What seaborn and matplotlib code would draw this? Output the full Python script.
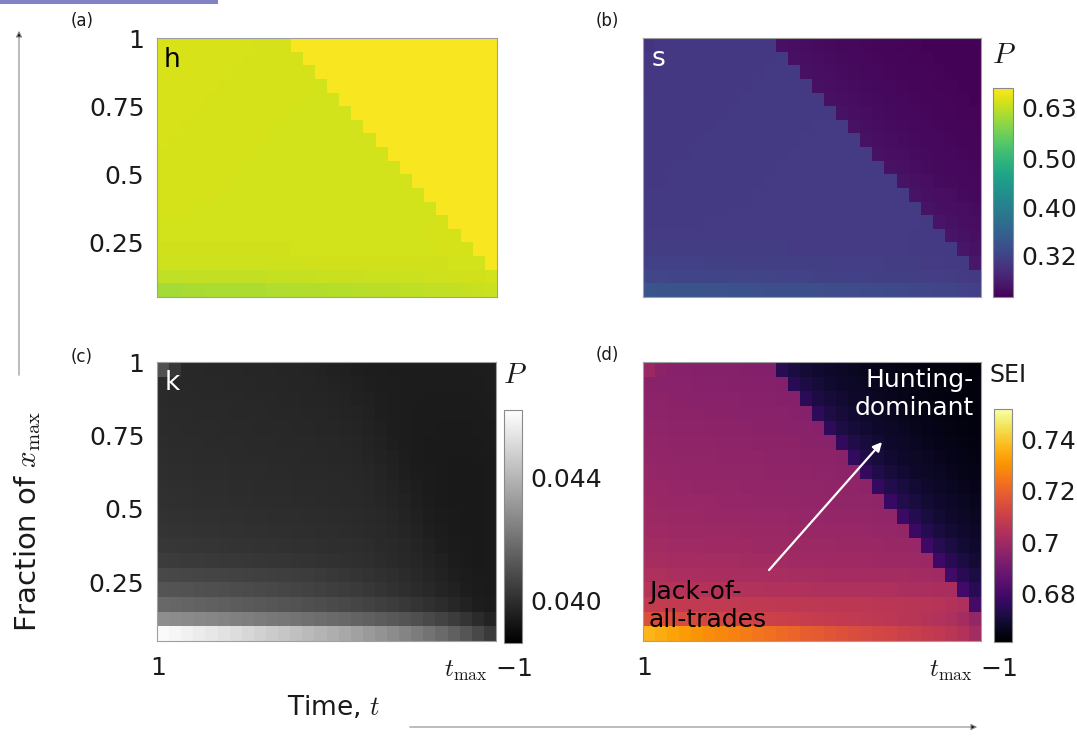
import matplotlib
matplotlib.use("Agg")
import numpy as np
import pandas as pd
import matplotlib.pyplot as plt
import seaborn as sns
from matplotlib.colors import LogNorm, Normalize
from matplotlib.patches import Rectangle, FancyArrowPatch

sns.set_style("white")
plt.rcParams["font.family"] = ["DejaVu Sans"]
plt.rcParams["mathtext.fontset"] = "cm"

# ---------------- data ----------------
fractions = [1.0, 0.95, 0.9, 0.85, 0.8, 0.75, 0.7, 0.65, 0.6, 0.55,
             0.5, 0.45, 0.4, 0.35, 0.3, 0.25, 0.2, 0.15, 0.1]
times = list(range(1, 29))

y_tick_labels = ["1", "0.75", "0.5", "0.25"]
x_tick_labels = ["1", r"$t_{\max}$ −1"]

P_cbar_ticks = [0.32, 0.40, 0.50, 0.63]
P_cbar_labels = ["0.32", "0.40", "0.50", "0.63"]
k_cbar_ticks = [0.040, 0.044]
k_cbar_labels = ["0.040", "0.044"]
sei_cbar_ticks = [0.68, 0.70, 0.72, 0.74]
sei_cbar_labels = ["0.68", "0.7", "0.72", "0.74"]

# probability of hunting (panel a)
h_rows = [
    [0.652,0.651,0.651,0.650,0.650, 0.650,0.650,0.650,0.649,0.649, 0.649,0.683,0.683,0.684,0.684, 0.684,0.684,0.684,0.684,0.684, 0.684,0.684,0.684,0.684,0.684, 0.684,0.684,0.684],
    [0.651,0.651,0.650,0.650,0.650, 0.650,0.650,0.649,0.649,0.649, 0.649,0.648,0.683,0.683,0.684, 0.684,0.684,0.684,0.684,0.684, 0.684,0.684,0.684,0.684,0.684, 0.684,0.684,0.684],
    [0.651,0.650,0.650,0.650,0.650, 0.650,0.649,0.649,0.649,0.649, 0.648,0.648,0.648,0.683,0.683, 0.684,0.684,0.684,0.684,0.684, 0.684,0.684,0.684,0.684,0.684, 0.684,0.684,0.684],
    [0.651,0.650,0.650,0.650,0.650, 0.649,0.649,0.649,0.649,0.648, 0.648,0.648,0.648,0.647,0.683, 0.683,0.684,0.684,0.684,0.684, 0.684,0.684,0.684,0.684,0.684, 0.684,0.684,0.684],
    [0.650,0.650,0.650,0.650,0.649, 0.649,0.649,0.649,0.648,0.648, 0.648,0.648,0.647,0.647,0.647, 0.683,0.683,0.684,0.684,0.684, 0.684,0.684,0.684,0.684,0.684, 0.684,0.684,0.684],
    [0.650,0.650,0.650,0.649,0.649, 0.649,0.649,0.648,0.648,0.648, 0.648,0.647,0.647,0.647,0.647, 0.646,0.683,0.683,0.684,0.684, 0.684,0.684,0.684,0.684,0.684, 0.684,0.684,0.684],
    [0.650,0.650,0.649,0.649,0.649, 0.649,0.648,0.648,0.648,0.648, 0.647,0.647,0.647,0.647,0.646, 0.646,0.646,0.683,0.683,0.684, 0.684,0.684,0.684,0.684,0.684, 0.684,0.684,0.684],
    [0.650,0.649,0.649,0.649,0.649, 0.648,0.648,0.648,0.648,0.647, 0.647,0.647,0.647,0.646,0.646, 0.646,0.646,0.646,0.683,0.683, 0.684,0.684,0.684,0.684,0.684, 0.684,0.684,0.684],
    [0.649,0.649,0.649,0.649,0.648, 0.648,0.648,0.648,0.647,0.647, 0.647,0.647,0.646,0.646,0.646, 0.646,0.646,0.646,0.646,0.683, 0.683,0.684,0.684,0.684,0.684, 0.684,0.684,0.684],
    [0.649,0.649,0.649,0.648,0.648, 0.648,0.648,0.647,0.647,0.647, 0.647,0.646,0.646,0.646,0.646, 0.646,0.646,0.646,0.646,0.646, 0.683,0.683,0.684,0.684,0.684, 0.684,0.684,0.684],
    [0.649,0.649,0.648,0.648,0.648, 0.648,0.647,0.647,0.647,0.647, 0.646,0.646,0.646,0.646,0.646, 0.646,0.646,0.646,0.646,0.646, 0.647,0.683,0.683,0.684,0.684, 0.684,0.684,0.684],
    [0.648,0.648,0.648,0.648,0.648, 0.647,0.647,0.647,0.647,0.646, 0.646,0.646,0.646,0.646,0.646, 0.646,0.646,0.646,0.646,0.646, 0.647,0.647,0.683,0.683,0.684, 0.684,0.684,0.684],
    [0.648,0.648,0.648,0.647,0.647, 0.647,0.647,0.646,0.646,0.646, 0.646,0.646,0.646,0.646,0.646, 0.646,0.646,0.646,0.646,0.646, 0.647,0.647,0.647,0.683,0.683, 0.684,0.684,0.684],
    [0.647,0.647,0.647,0.647,0.647, 0.646,0.646,0.646,0.646,0.646, 0.646,0.646,0.646,0.646,0.646, 0.646,0.646,0.646,0.646,0.647, 0.647,0.647,0.647,0.648,0.683, 0.683,0.684,0.684],
    [0.646,0.646,0.646,0.646,0.646, 0.646,0.646,0.646,0.646,0.646, 0.646,0.646,0.646,0.646,0.646, 0.646,0.646,0.646,0.647,0.647, 0.647,0.647,0.648,0.648,0.648, 0.683,0.684,0.684],
    [0.645,0.645,0.645,0.645,0.645, 0.645,0.645,0.645,0.645,0.645, 0.645,0.646,0.646,0.646,0.646, 0.646,0.646,0.646,0.646,0.647, 0.647,0.647,0.647,0.648,0.648, 0.648,0.683,0.684],
    [0.641,0.641,0.641,0.641,0.641, 0.641,0.642,0.642,0.642,0.642, 0.642,0.642,0.643,0.643,0.643, 0.643,0.643,0.644,0.644,0.644, 0.644,0.645,0.645,0.645,0.646, 0.646,0.647,0.683],
    [0.630,0.630,0.631,0.631,0.632, 0.632,0.632,0.633,0.633,0.634, 0.634,0.635,0.635,0.636,0.636, 0.637,0.637,0.638,0.638,0.639, 0.640,0.640,0.641,0.642,0.643, 0.644,0.645,0.647],
    [0.606,0.607,0.608,0.609,0.610, 0.611,0.612,0.613,0.614,0.615, 0.616,0.617,0.618,0.619,0.620, 0.621,0.622,0.623,0.624,0.626, 0.627,0.628,0.630,0.631,0.633, 0.635,0.637,0.640],
]

# probability of scavenging (panel b)
s_rows = [
    [0.307,0.308,0.308,0.309,0.309, 0.309,0.309,0.309,0.310,0.310, 0.310,0.276,0.275,0.274,0.273, 0.272,0.271,0.270,0.269,0.268, 0.268,0.267,0.267,0.266,0.266, 0.266,0.266,0.266],
    [0.308,0.308,0.309,0.309,0.309, 0.309,0.309,0.310,0.310,0.310, 0.310,0.311,0.276,0.275,0.274, 0.273,0.272,0.271,0.270,0.269, 0.268,0.268,0.267,0.267,0.266, 0.266,0.266,0.266],
    [0.308,0.309,0.309,0.309,0.309, 0.309,0.310,0.310,0.310,0.310, 0.311,0.311,0.311,0.276,0.275, 0.274,0.273,0.272,0.271,0.270, 0.269,0.268,0.268,0.267,0.267, 0.266,0.266,0.266],
    [0.308,0.309,0.309,0.309,0.309, 0.310,0.310,0.310,0.310,0.311, 0.311,0.311,0.311,0.312,0.276, 0.275,0.274,0.273,0.272,0.271, 0.270,0.269,0.268,0.268,0.267, 0.267,0.266,0.266],
    [0.309,0.309,0.309,0.309,0.310, 0.310,0.310,0.310,0.311,0.311, 0.311,0.311,0.312,0.312,0.312, 0.276,0.275,0.274,0.273,0.272, 0.271,0.270,0.269,0.268,0.268, 0.267,0.267,0.266],
    [0.309,0.309,0.309,0.310,0.310, 0.310,0.310,0.311,0.311,0.311, 0.311,0.312,0.312,0.312,0.312, 0.312,0.277,0.275,0.274,0.273, 0.272,0.271,0.270,0.269,0.268, 0.268,0.267,0.267],
    [0.309,0.309,0.310,0.310,0.310, 0.310,0.311,0.311,0.311,0.311, 0.312,0.312,0.312,0.312,0.313, 0.313,0.313,0.277,0.275,0.274, 0.273,0.272,0.271,0.270,0.269, 0.268,0.268,0.267],
    [0.309,0.310,0.310,0.310,0.310, 0.311,0.311,0.311,0.311,0.312, 0.312,0.312,0.312,0.313,0.313, 0.313,0.313,0.313,0.277,0.275, 0.274,0.273,0.272,0.271,0.270, 0.269,0.268,0.268],
    [0.310,0.310,0.310,0.310,0.311, 0.311,0.311,0.311,0.312,0.312, 0.312,0.312,0.313,0.313,0.313, 0.313,0.313,0.313,0.313,0.277, 0.275,0.274,0.273,0.272,0.271, 0.270,0.269,0.268],
    [0.310,0.310,0.310,0.311,0.311, 0.311,0.311,0.312,0.312,0.312, 0.312,0.313,0.313,0.313,0.313, 0.313,0.313,0.313,0.313,0.313, 0.277,0.276,0.274,0.273,0.272, 0.271,0.270,0.269],
    [0.310,0.310,0.311,0.311,0.311, 0.311,0.312,0.312,0.312,0.312, 0.313,0.313,0.313,0.313,0.313, 0.313,0.313,0.313,0.313,0.313, 0.313,0.278,0.276,0.275,0.273, 0.272,0.271,0.270],
    [0.311,0.311,0.311,0.311,0.311, 0.312,0.312,0.312,0.312,0.313, 0.313,0.313,0.313,0.313,0.313, 0.313,0.313,0.313,0.313,0.313, 0.313,0.313,0.278,0.276,0.275, 0.274,0.272,0.271],
    [0.311,0.311,0.311,0.312,0.312, 0.312,0.312,0.313,0.313,0.313, 0.313,0.313,0.313,0.313,0.313, 0.313,0.313,0.313,0.313,0.313, 0.313,0.313,0.313,0.278,0.276, 0.275,0.274,0.273],
    [0.312,0.312,0.312,0.312,0.312, 0.313,0.313,0.313,0.313,0.313, 0.313,0.313,0.313,0.313,0.313, 0.313,0.313,0.313,0.313,0.313, 0.313,0.313,0.313,0.312,0.279, 0.277,0.275,0.274],
    [0.313,0.313,0.313,0.313,0.313, 0.313,0.313,0.313,0.313,0.313, 0.313,0.313,0.313,0.313,0.313, 0.313,0.313,0.313,0.313,0.313, 0.313,0.313,0.312,0.312,0.312, 0.279,0.277,0.275],
    [0.314,0.314,0.314,0.314,0.314, 0.314,0.314,0.314,0.314,0.314, 0.314,0.314,0.313,0.313,0.313, 0.313,0.313,0.313,0.313,0.313, 0.313,0.313,0.312,0.312,0.312, 0.312,0.280,0.277],
    [0.318,0.318,0.318,0.318,0.318, 0.317,0.317,0.317,0.317,0.317, 0.317,0.316,0.316,0.316,0.316, 0.316,0.315,0.315,0.315,0.315, 0.314,0.314,0.314,0.313,0.313, 0.312,0.312,0.281],
    [0.324,0.324,0.323,0.323,0.323, 0.322,0.322,0.322,0.321,0.321, 0.321,0.320,0.320,0.320,0.319, 0.319,0.318,0.318,0.318,0.317, 0.317,0.316,0.316,0.315,0.315, 0.314,0.313,0.311],
    [0.340,0.339,0.339,0.338,0.338, 0.337,0.337,0.336,0.336,0.335, 0.334,0.334,0.333,0.333,0.332, 0.331,0.331,0.330,0.329,0.328, 0.327,0.326,0.325,0.324,0.323, 0.322,0.320,0.318],
]

# probability of kleptoparasitism (panel c)
k_rows = [
    [0.04098,0.04024,0.03979,0.03979,0.03976, 0.03976,0.03976,0.03973,0.03973,0.03973, 0.03970,0.03970,0.03967,0.03964,0.03958, 0.03955,0.03952,0.03949,0.03949,0.03946, 0.03946,0.03946,0.03946,0.03946,0.03946, 0.03946,0.03949,0.03949],
    [0.03985,0.03982,0.03979,0.03979,0.03979, 0.03976,0.03976,0.03976,0.03973,0.03973, 0.03973,0.03970,0.03970,0.03967,0.03964, 0.03958,0.03955,0.03952,0.03949,0.03949, 0.03946,0.03946,0.03946,0.03946,0.03946, 0.03946,0.03946,0.03949],
    [0.03985,0.03982,0.03982,0.03979,0.03979, 0.03979,0.03979,0.03976,0.03976,0.03976, 0.03973,0.03973,0.03970,0.03970,0.03967, 0.03964,0.03958,0.03955,0.03952,0.03949, 0.03946,0.03946,0.03943,0.03943,0.03943, 0.03943,0.03946,0.03946],
    [0.03988,0.03985,0.03985,0.03982,0.03982, 0.03982,0.03979,0.03979,0.03979,0.03976, 0.03976,0.03976,0.03973,0.03973,0.03970, 0.03967,0.03964,0.03958,0.03952,0.03949, 0.03946,0.03943,0.03943,0.03943,0.03943, 0.03943,0.03943,0.03946],
    [0.03988,0.03988,0.03985,0.03985,0.03985, 0.03982,0.03982,0.03982,0.03979,0.03979, 0.03979,0.03976,0.03976,0.03973,0.03973, 0.03970,0.03967,0.03961,0.03955,0.03949, 0.03946,0.03943,0.03943,0.03940,0.03940, 0.03940,0.03943,0.03943],
    [0.03991,0.03988,0.03988,0.03988,0.03985, 0.03985,0.03985,0.03982,0.03982,0.03982, 0.03979,0.03979,0.03979,0.03976,0.03976, 0.03973,0.03970,0.03964,0.03958,0.03952, 0.03946,0.03943,0.03940,0.03940,0.03940, 0.03940,0.03940,0.03943],
    [0.03994,0.03991,0.03991,0.03988,0.03988, 0.03988,0.03985,0.03985,0.03985,0.03982, 0.03982,0.03982,0.03979,0.03979,0.03976, 0.03976,0.03973,0.03967,0.03961,0.03955, 0.03949,0.03943,0.03940,0.03940,0.03937, 0.03937,0.03940,0.03940],
    [0.03997,0.03994,0.03994,0.03991,0.03991, 0.03991,0.03988,0.03988,0.03988,0.03985, 0.03985,0.03982,0.03982,0.03982,0.03979, 0.03979,0.03976,0.03973,0.03967,0.03958, 0.03952,0.03946,0.03943,0.03940,0.03937, 0.03937,0.03937,0.03940],
    [0.04000,0.03997,0.03997,0.03994,0.03994, 0.03994,0.03991,0.03991,0.03988,0.03988, 0.03988,0.03985,0.03985,0.03985,0.03982, 0.03982,0.03979,0.03976,0.03970,0.03964, 0.03955,0.03949,0.03943,0.03940,0.03937, 0.03937,0.03937,0.03940],
    [0.04003,0.04000,0.04000,0.03997,0.03997, 0.03997,0.03994,0.03994,0.03991,0.03991, 0.03991,0.03988,0.03988,0.03985,0.03985, 0.03982,0.03982,0.03979,0.03973,0.03967, 0.03961,0.03952,0.03946,0.03940,0.03937, 0.03937,0.03937,0.03940],
    [0.04009,0.04006,0.04006,0.04003,0.04003, 0.04000,0.04000,0.03997,0.03997,0.03994, 0.03994,0.03994,0.03991,0.03991,0.03988, 0.03988,0.03985,0.03982,0.03979,0.03973, 0.03964,0.03955,0.03949,0.03943,0.03940, 0.03937,0.03937,0.03940],
    [0.04015,0.04012,0.04012,0.04009,0.04009, 0.04006,0.04006,0.04003,0.04003,0.04000, 0.04000,0.03997,0.03997,0.03994,0.03994, 0.03991,0.03988,0.03985,0.03982,0.03976, 0.03970,0.03961,0.03952,0.03946,0.03940, 0.03937,0.03937,0.03940],
    [0.04024,0.04021,0.04021,0.04018,0.04018, 0.04015,0.04012,0.04012,0.04009,0.04009, 0.04006,0.04003,0.04003,0.04000,0.03997, 0.03997,0.03994,0.03991,0.03985,0.03982, 0.03976,0.03967,0.03958,0.03949,0.03943, 0.03940,0.03937,0.03940],
    [0.04039,0.04036,0.04033,0.04033,0.04030, 0.04027,0.04027,0.04024,0.04021,0.04018, 0.04018,0.04015,0.04012,0.04009,0.04006, 0.04003,0.04000,0.03997,0.03991,0.03985, 0.03979,0.03973,0.03964,0.03955,0.03946, 0.03940,0.03937,0.03940],
    [0.04075,0.04072,0.04069,0.04066,0.04063, 0.04060,0.04057,0.04054,0.04051,0.04048, 0.04045,0.04042,0.04039,0.04033,0.04027, 0.04021,0.04015,0.04009,0.04003,0.03997, 0.03988,0.03979,0.03970,0.03961,0.03952, 0.03946,0.03940,0.03940],
    [0.04110,0.04107,0.04104,0.04098,0.04095, 0.04092,0.04087,0.04084,0.04078,0.04075, 0.04069,0.04063,0.04057,0.04051,0.04045, 0.04039,0.04033,0.04024,0.04015,0.04006, 0.03997,0.03988,0.03979,0.03967,0.03958, 0.03949,0.03943,0.03940],
    [0.04170,0.04164,0.04158,0.04152,0.04146, 0.04140,0.04134,0.04128,0.04122,0.04116, 0.04110,0.04104,0.04095,0.04090,0.04081, 0.04075,0.04066,0.04057,0.04048,0.04039, 0.04027,0.04015,0.04003,0.03991,0.03976, 0.03961,0.03949,0.03943],
    [0.04283,0.04277,0.04271,0.04265,0.04259, 0.04250,0.04241,0.04235,0.04227,0.04218, 0.04212,0.04203,0.04194,0.04185,0.04176, 0.04167,0.04155,0.04146,0.04134,0.04122, 0.04110,0.04095,0.04078,0.04060,0.04039, 0.04015,0.03988,0.03964],
    [0.04605,0.04593,0.04578,0.04563,0.04548, 0.04533,0.04519,0.04501,0.04483,0.04465, 0.04450,0.04432,0.04414,0.04396,0.04378, 0.04361,0.04340,0.04319,0.04298,0.04277, 0.04253,0.04230,0.04203,0.04176,0.04146, 0.04113,0.04075,0.04033],
]

# specialisation index SEI (panel d)
sei_rows = [
    [0.6990,0.6955,0.6947,0.6945,0.6944, 0.6943,0.6942,0.6941,0.6940,0.6939, 0.6937,0.6740,0.6712,0.6698,0.6688, 0.6680,0.6672,0.6665,0.6658,0.6652, 0.6646,0.6641,0.6637,0.6634,0.6631, 0.6629,0.6628,0.6627],
    [0.6953,0.6951,0.6949,0.6948,0.6947, 0.6946,0.6945,0.6944,0.6943,0.6942, 0.6941,0.6939,0.6745,0.6714,0.6699, 0.6688,0.6680,0.6672,0.6665,0.6658, 0.6652,0.6646,0.6641,0.6637,0.6634, 0.6631,0.6629,0.6628],
    [0.6957,0.6955,0.6953,0.6952,0.6951, 0.6950,0.6949,0.6948,0.6947,0.6946, 0.6945,0.6943,0.6941,0.6748,0.6716, 0.6700,0.6689,0.6680,0.6672,0.6665, 0.6658,0.6652,0.6646,0.6641,0.6637, 0.6634,0.6631,0.6629],
    [0.6961,0.6959,0.6957,0.6956,0.6955, 0.6954,0.6953,0.6952,0.6951,0.6950, 0.6949,0.6948,0.6946,0.6944,0.6752, 0.6718,0.6701,0.6689,0.6680,0.6672, 0.6665,0.6658,0.6652,0.6646,0.6641, 0.6637,0.6634,0.6631],
    [0.6965,0.6963,0.6961,0.6960,0.6959, 0.6958,0.6957,0.6956,0.6955,0.6954, 0.6953,0.6952,0.6951,0.6949,0.6947, 0.6755,0.6720,0.6702,0.6690,0.6681, 0.6672,0.6665,0.6658,0.6652,0.6646, 0.6641,0.6637,0.6634],
    [0.6969,0.6967,0.6965,0.6964,0.6963, 0.6962,0.6961,0.6960,0.6959,0.6958, 0.6957,0.6956,0.6955,0.6954,0.6952, 0.6950,0.6758,0.6722,0.6703,0.6690, 0.6681,0.6672,0.6665,0.6658,0.6652, 0.6646,0.6641,0.6637],
    [0.6973,0.6971,0.6969,0.6968,0.6967, 0.6966,0.6965,0.6964,0.6963,0.6962, 0.6961,0.6960,0.6959,0.6958,0.6957, 0.6955,0.6953,0.6762,0.6724,0.6704, 0.6691,0.6681,0.6673,0.6665,0.6658, 0.6652,0.6646,0.6641],
    [0.6977,0.6975,0.6973,0.6972,0.6971, 0.6970,0.6969,0.6968,0.6967,0.6966, 0.6965,0.6964,0.6963,0.6962,0.6961, 0.6960,0.6958,0.6956,0.6765,0.6726, 0.6705,0.6691,0.6681,0.6673,0.6665, 0.6658,0.6652,0.6646],
    [0.6982,0.6980,0.6978,0.6977,0.6976, 0.6975,0.6974,0.6973,0.6972,0.6971, 0.6970,0.6969,0.6968,0.6967,0.6966, 0.6965,0.6964,0.6962,0.6960,0.6768, 0.6728,0.6706,0.6692,0.6682,0.6673, 0.6665,0.6658,0.6652],
    [0.6987,0.6985,0.6983,0.6982,0.6981, 0.6980,0.6979,0.6978,0.6977,0.6976, 0.6975,0.6974,0.6973,0.6972,0.6971, 0.6970,0.6969,0.6968,0.6966,0.6963, 0.6772,0.6730,0.6707,0.6692,0.6682, 0.6673,0.6665,0.6658],
    [0.6993,0.6991,0.6989,0.6988,0.6987, 0.6986,0.6985,0.6984,0.6983,0.6982, 0.6981,0.6980,0.6979,0.6978,0.6977, 0.6976,0.6975,0.6974,0.6973,0.6971, 0.6968,0.6775,0.6732,0.6708,0.6693, 0.6682,0.6673,0.6665],
    [0.7000,0.6998,0.6996,0.6995,0.6994, 0.6993,0.6992,0.6991,0.6990,0.6989, 0.6988,0.6987,0.6986,0.6985,0.6984, 0.6983,0.6982,0.6981,0.6980,0.6979, 0.6977,0.6974,0.6778,0.6734,0.6709, 0.6693,0.6682,0.6673],
    [0.7008,0.7006,0.7004,0.7003,0.7002, 0.7001,0.7000,0.6999,0.6998,0.6997, 0.6996,0.6995,0.6994,0.6993,0.6992, 0.6991,0.6990,0.6989,0.6988,0.6987, 0.6986,0.6984,0.6981,0.6782,0.6736, 0.6710,0.6694,0.6683],
    [0.7018,0.7016,0.7014,0.7013,0.7012, 0.7011,0.7010,0.7009,0.7008,0.7007, 0.7006,0.7005,0.7004,0.7003,0.7002, 0.7001,0.7000,0.6999,0.6998,0.6997, 0.6996,0.6995,0.6993,0.6990,0.6785, 0.6738,0.6711,0.6694],
    [0.7032,0.7030,0.7028,0.7027,0.7026, 0.7025,0.7024,0.7023,0.7022,0.7021, 0.7020,0.7019,0.7018,0.7017,0.7016, 0.7015,0.7014,0.7013,0.7012,0.7011, 0.7010,0.7009,0.7008,0.7006,0.7003, 0.6788,0.6740,0.6712],
    [0.7052,0.7050,0.7048,0.7047,0.7046, 0.7045,0.7044,0.7043,0.7042,0.7041, 0.7040,0.7039,0.7038,0.7037,0.7036, 0.7035,0.7034,0.7033,0.7032,0.7031, 0.7030,0.7029,0.7028,0.7027,0.7025, 0.7022,0.6792,0.6742],
    [0.7085,0.7083,0.7081,0.7080,0.7079, 0.7078,0.7077,0.7076,0.7075,0.7074, 0.7073,0.7072,0.7071,0.7070,0.7069, 0.7068,0.7067,0.7066,0.7065,0.7064, 0.7062,0.7060,0.7058,0.7055,0.7051, 0.7045,0.7035,0.6795],
    [0.7150,0.7145,0.7140,0.7135,0.7130, 0.7125,0.7121,0.7117,0.7113,0.7109, 0.7105,0.7101,0.7097,0.7093,0.7089, 0.7085,0.7081,0.7077,0.7073,0.7069, 0.7065,0.7060,0.7055,0.7049,0.7041, 0.7031,0.7015,0.6975],
    [0.7365,0.7350,0.7335,0.7320,0.7306, 0.7292,0.7280,0.7268,0.7255,0.7242, 0.7230,0.7218,0.7205,0.7192,0.7180, 0.7168,0.7157,0.7146,0.7135,0.7125, 0.7115,0.7105,0.7095,0.7085,0.7074, 0.7062,0.7045,0.7010],
]

for name, rows in [("h", h_rows), ("s", s_rows), ("k", k_rows), ("sei", sei_rows)]:
    assert len(rows) == len(fractions), name
    for i, r in enumerate(rows):
        assert len(r) == len(times), (name, i, len(r))

# ---------------- figure ----------------
W, H = 1077, 739
fig = plt.figure(figsize=(W / 100, H / 100), dpi=100)


def box(l, t, r, b):
    return [l / W, 1 - b / H, (r - l) / W, (b - t) / H]


def fx(x):
    return x / W


def fy(y):
    return 1 - y / H


ax_a = fig.add_axes(box(157, 38, 497, 297))
ax_b = fig.add_axes(box(643, 38, 981, 297))
cax_ab = fig.add_axes(box(993, 88, 1013, 297))
ax_c = fig.add_axes(box(157, 362, 496, 641))
cax_c = fig.add_axes(box(504, 410, 522, 643))
ax_d = fig.add_axes(box(643, 362, 981, 641))
cax_d = fig.add_axes(box(994, 409, 1012, 642))

P_norm = LogNorm(vmin=0.265, vmax=0.69)
k_norm = Normalize(vmin=0.0386, vmax=0.0462)
sei_norm = Normalize(vmin=0.661, vmax=0.752)

TXT = "#1a1a1a"


def draw(ax, rows, cmap, norm, cax=None, ticks=None, labels=None):
    df = pd.DataFrame(rows, index=fractions, columns=times)
    sns.heatmap(df, ax=ax, cmap=cmap, norm=norm,
                cbar=cax is not None, cbar_ax=cax,
                xticklabels=False, yticklabels=False, linewidths=0)
    for sp in ax.spines.values():
        sp.set_visible(True)
        sp.set_edgecolor("#a0a0a0")
        sp.set_linewidth(0.8)
    ax.tick_params(length=0)
    if cax is not None:
        cb = ax.collections[0].colorbar
        cb.set_ticks(ticks, labels=labels)
        cb.ax.minorticks_off()
        cb.outline.set_visible(True)
        cb.outline.set_linewidth(0.8)
        cb.outline.set_edgecolor("#8a8a8a")
        cb.ax.tick_params(axis="y", which="major", direction="in", length=3,
                          width=0.6, color="#777777", labelsize=18,
                          labelcolor=TXT, pad=6)


draw(ax_a, h_rows, "viridis", P_norm)
draw(ax_b, s_rows, "viridis", P_norm, cax_ab, P_cbar_ticks, P_cbar_labels)
draw(ax_c, k_rows, "gray", k_norm, cax_c, k_cbar_ticks, k_cbar_labels)
draw(ax_d, sei_rows, "inferno", sei_norm, cax_d, sei_cbar_ticks, sei_cbar_labels)

for ax in (ax_a, ax_c):
    ax.set_yticks([0, 5, 10, 15])
    ax.set_yticklabels(y_tick_labels, fontsize=18, color=TXT)
    ax.tick_params(axis="y", length=0, pad=9)
for ax in (ax_c, ax_d):
    ax.set_xticks([0.1, 27.3])
    ax.set_xticklabels(x_tick_labels, fontsize=18, color=TXT)
    ax.tick_params(axis="x", length=0, pad=11)

# in-panel labels
ax_a.text(0.045, 0.915, "h", transform=ax_a.transAxes, fontsize=19,
          color="black", ha="center", va="center")
ax_b.text(0.045, 0.92, "s", transform=ax_b.transAxes, fontsize=19,
          color="white", ha="center", va="center")
ax_c.text(0.045, 0.925, "k", transform=ax_c.transAxes, fontsize=19,
          color="white", ha="center", va="center")
fig.text(fx(974), fy(394), "Hunting-\ndominant", fontsize=18, color="white",
         ha="right", va="center", multialignment="right", linespacing=1.25)
fig.text(fx(649), fy(606), "Jack-of-\nall-trades", fontsize=18, color="black",
         ha="left", va="center", multialignment="left", linespacing=1.25)
ax_d.annotate("", xy=(19.8, 5.45), xytext=(10.44, 14.17),
              arrowprops=dict(arrowstyle="-|>", color="white", lw=1.6,
                              mutation_scale=13, shrinkA=0, shrinkB=0))

# colorbar titles
fig.text(fx(1004), fy(55), r"$P$", fontsize=21, color=TXT, ha="center", va="center")
fig.text(fx(515), fy(375), r"$P$", fontsize=21, color=TXT, ha="center", va="center")
fig.text(fx(1008), fy(375), "SEI", fontsize=17, color=TXT, ha="center", va="center")

# panel letters
for lab, x, y in [("(a)", 82, 21), ("(b)", 607, 21), ("(c)", 82, 357), ("(d)", 607, 355)]:
    fig.text(fx(x), fy(y), lab, fontsize=12, color=TXT, ha="center", va="center")

# shared axis labels with arrows
fig.text(fx(28), fy(521), r"Fraction of $x_{\max}$", fontsize=21, color=TXT,
         rotation=90, ha="center", va="center")
fig.text(fx(333), fy(708), r"Time, $t$", fontsize=19, color=TXT,
         ha="center", va="center")
fig.add_artist(FancyArrowPatch((fx(19), fy(378)), (fx(19), fy(28)),
                               transform=fig.transFigure, arrowstyle="-|>",
                               mutation_scale=9, lw=0.8, ec="#8a8a8a", fc="#111111"))
fig.add_artist(FancyArrowPatch((fx(407), fy(727)), (fx(980), fy(727)),
                               transform=fig.transFigure, arrowstyle="-|>",
                               mutation_scale=9, lw=0.8, ec="#8a8a8a", fc="#111111"))

# thin header strip at the top-left corner
fig.add_artist(Rectangle((0, fy(4)), fx(218), 4 / H, transform=fig.transFigure,
                         facecolor="#8282c4", edgecolor="none"))

fig.savefig("out.png", dpi=100)
